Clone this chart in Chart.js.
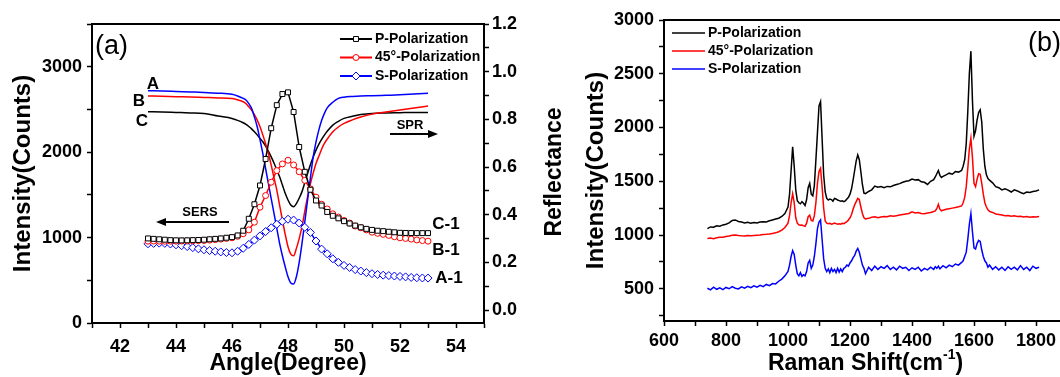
<!DOCTYPE html>
<html>
<head>
<meta charset="utf-8">
<script src="https://cdn.jsdelivr.net/npm/chart.js@4.4.1/dist/chart.umd.min.js"></script>
<style>
  html, body { margin: 0; padding: 0; background: #fff; overflow: hidden; width: 1060px; height: 377px; }
  #chartA { position: absolute; left: 0; top: 0; }
  #chartB { position: absolute; left: 560px; top: 0; }
</style>
</head>
<body>
<canvas id="chartA" width="575" height="377"></canvas>
<canvas id="chartB" width="540" height="377"></canvas>
<script>
const FONT = "Arial, 'Liberation Sans', sans-serif";

// ---- panel (a): SERS intensity vs angle (markers) ----
const sersAngles = [43.0, 43.2, 43.4, 43.6, 43.8, 44.0, 44.2, 44.4, 44.6, 44.8, 45.0, 45.2, 45.4, 45.6, 45.8, 46.0,
    46.2, 46.4, 46.6, 46.8, 47.0, 47.2, 47.4, 47.6, 47.8, 48.0, 48.2, 48.4, 48.6, 48.8, 49.0,
    49.2, 49.4, 49.6, 49.8, 50.0, 50.2, 50.4, 50.6, 50.8, 51.0, 51.2, 51.4, 51.6, 51.8, 52.0, 52.2, 52.4, 52.6, 52.8, 53.0];
const sersP = [990, 985, 980, 975, 970, 968, 967, 968, 970, 972, 975, 980, 985, 990, 998, 1005,
    1025, 1080, 1220, 1390, 1610, 1920, 2280, 2550, 2680, 2700, 2470, 2060, 1770, 1560, 1434,
    1375, 1300, 1255, 1225, 1192, 1165, 1140, 1120, 1102, 1090, 1080, 1075, 1068, 1062, 1056, 1054, 1053, 1052, 1052, 1052];
const sers45 = [958, 960, 958, 957, 958, 958, 960, 960, 962, 964, 966, 970, 976, 982, 990, 997,
    1015, 1045, 1090, 1180, 1356, 1492, 1648, 1784, 1862, 1905, 1850, 1770, 1670, 1570, 1473,
    1390, 1335, 1278, 1240, 1200, 1170, 1135, 1115, 1090, 1063, 1050, 1038, 1025, 1010, 997, 990, 982, 972, 965, 958];
const sersS = [927, 932, 935, 932, 925, 915, 905, 895, 882, 868, 857, 848, 840, 832, 825, 822,
    840, 875, 920, 970, 1020, 1070, 1115, 1155, 1190, 1215, 1205, 1170, 1120, 1060, 960,
    865, 810, 752, 710, 674, 650, 625, 608, 590, 577, 568, 560, 555, 550, 545, 540, 533, 530, 527, 526];

// ---- panel (a): reflectance vs angle (lines) ----
const reflAngles = [43, 43.5, 44, 44.5, 45, 45.5, 46, 46.2, 46.4,
    46.5, 46.6, 46.7, 46.8, 46.9, 47.0, 47.1, 47.2, 47.3, 47.4, 47.5, 47.6, 47.7, 47.8, 47.9,
    48.0, 48.1, 48.2, 48.3, 48.4, 48.5, 48.6, 48.7, 48.8, 48.9, 49.0, 49.1, 49.2, 49.3, 49.4,
    49.6, 49.8, 50.0, 50.3, 50.6, 51.0, 51.5, 52.0, 52.5, 53.0];
const reflA = [0.920, 0.919, 0.917, 0.915, 0.913, 0.910, 0.905, 0.898, 0.888,
    0.881, 0.866, 0.846, 0.810, 0.769, 0.715, 0.657, 0.594, 0.531, 0.468, 0.406, 0.343, 0.280, 0.228, 0.182,
    0.140, 0.114, 0.110, 0.140, 0.200, 0.280, 0.370, 0.462, 0.555, 0.643, 0.705, 0.755, 0.795, 0.825, 0.848,
    0.872, 0.888, 0.893, 0.896, 0.898, 0.899, 0.901, 0.903, 0.906, 0.910];
const reflB = [0.898, 0.897, 0.895, 0.894, 0.892, 0.890, 0.888, 0.882, 0.874,
    0.866, 0.853, 0.839, 0.820, 0.797, 0.769, 0.735, 0.698, 0.657, 0.608, 0.555, 0.503, 0.440, 0.378, 0.318,
    0.266, 0.235, 0.228, 0.259, 0.300, 0.350, 0.415, 0.476, 0.530, 0.575, 0.615, 0.645, 0.675, 0.699, 0.717,
    0.748, 0.768, 0.783, 0.798, 0.810, 0.822, 0.831, 0.839, 0.848, 0.856];
const reflC = [0.832, 0.831, 0.829, 0.827, 0.825, 0.814, 0.804, 0.796, 0.786,
    0.779, 0.770, 0.760, 0.748, 0.735, 0.720, 0.706, 0.688, 0.666, 0.643, 0.617, 0.588, 0.559, 0.525, 0.490,
    0.462, 0.441, 0.434, 0.447, 0.470, 0.497, 0.535, 0.573, 0.610, 0.642, 0.671, 0.695, 0.716, 0.734, 0.750,
    0.776, 0.792, 0.804, 0.813, 0.820, 0.825, 0.827, 0.828, 0.829, 0.829];

// ---- panel (b): Raman spectra ----
const ramanShift = [740, 750, 760, 770, 780, 790, 800, 810, 820, 830, 840, 850, 860, 870, 880, 890, 900, 910, 920, 930, 940, 950, 960, 970, 980, 990,
    1000, 1005, 1010, 1015, 1020, 1025, 1030, 1035, 1040, 1045, 1050, 1055, 1060, 1065, 1070, 1075, 1080, 1085, 1090, 1095,
    1100, 1105, 1110, 1115, 1120, 1125, 1130, 1135, 1140, 1145, 1150, 1155, 1160, 1165, 1170, 1175, 1180, 1185, 1190, 1195,
    1200, 1205, 1210, 1215, 1220, 1225, 1230, 1235, 1240, 1245, 1250,
    1260, 1270, 1280, 1290, 1300, 1310, 1320, 1330, 1340, 1350, 1360, 1370, 1380, 1390, 1400, 1410, 1420, 1430, 1440, 1450, 1460, 1470,
    1475, 1480, 1485, 1490, 1495,
    1500, 1510, 1520, 1530, 1540, 1550, 1560,
    1565, 1570, 1575, 1580, 1585, 1590, 1595, 1600, 1605, 1610, 1615, 1620, 1625, 1630, 1635, 1640, 1645, 1650,
    1660, 1670, 1680, 1690, 1700, 1710, 1720, 1730, 1740, 1750, 1760, 1770, 1780, 1790, 1800, 1810];
const ramanP = [1060, 1075, 1072, 1085, 1082, 1094, 1100, 1112, 1135, 1140, 1126, 1120, 1112, 1118, 1110, 1116, 1112, 1120, 1124, 1122, 1132, 1140, 1148, 1156, 1172, 1200,
    1260, 1380, 1600, 1820, 1640, 1420, 1320, 1300, 1290, 1310, 1295, 1275, 1330, 1440, 1480, 1380, 1365, 1460, 1700, 1950,
    2200, 2240, 1900, 1560, 1400, 1340, 1325, 1335, 1330, 1315, 1340, 1335, 1325, 1320, 1315, 1318, 1310, 1318, 1335, 1350,
    1380, 1430, 1510, 1600, 1690, 1745, 1700, 1590, 1470, 1390, 1385,
    1405, 1420, 1455, 1445, 1450, 1440, 1452, 1448, 1460, 1470, 1478, 1490, 1500, 1505, 1520, 1512, 1515, 1495, 1490, 1470, 1500, 1515,
    1540, 1570, 1600, 1555, 1535,
    1545, 1560, 1575, 1565, 1590, 1585, 1600,
    1640, 1700, 1850, 2150, 2500, 2710, 2250, 1920, 1970, 2070, 2140, 2165, 2050, 1800, 1640, 1560, 1525, 1510,
    1485, 1450, 1440, 1420, 1430, 1418, 1400, 1420, 1410, 1395, 1385, 1400, 1395, 1405, 1410, 1420];
const raman45 = [968, 972, 966, 975, 978, 980, 985, 990, 998, 1000, 995, 992, 990, 995, 992, 996, 998, 1000, 1004, 1006, 1010, 1015, 1020, 1030, 1045, 1070,
    1110, 1180, 1300, 1385, 1300, 1160, 1110, 1095, 1090, 1092, 1085, 1080, 1110, 1170, 1185, 1135, 1130, 1180, 1300, 1480,
    1590, 1620, 1450, 1250, 1130, 1110, 1105, 1108, 1100, 1104, 1112, 1106, 1100, 1104, 1100, 1108, 1105, 1115, 1125, 1140,
    1160, 1190, 1240, 1280, 1310, 1340, 1330, 1260, 1200, 1160, 1150,
    1155, 1165, 1170, 1160, 1168, 1172, 1170, 1178, 1175, 1180, 1185, 1190, 1195, 1200, 1215, 1205, 1210, 1200, 1198, 1205, 1210, 1218,
    1225, 1245, 1285, 1240, 1225,
    1230, 1240, 1245, 1250, 1255, 1262, 1270,
    1300, 1350, 1450, 1620, 1800, 1900, 1720, 1480, 1450, 1520, 1570, 1565, 1480, 1380, 1300, 1260, 1235, 1220,
    1210, 1195, 1190, 1185, 1180, 1182, 1175, 1178, 1172, 1175, 1168, 1172, 1165, 1170, 1168, 1172];
const ramanS = [505, 490, 515, 495, 508, 492, 512, 500, 520, 505, 498, 518, 505, 522, 510, 528, 515, 532, 520, 540, 528, 548, 545, 570, 590, 620,
    660, 720, 800, 855, 820, 720, 640, 620, 650, 615, 630, 620, 660, 740, 765, 690, 720, 800, 920, 1060,
    1120, 1140, 960, 780, 690, 660, 685, 650, 690, 660, 680, 650, 690, 655, 685, 660, 690, 700, 720, 710,
    740, 760, 790, 810, 850, 875, 840, 780, 720, 690, 640,
    700, 670, 710, 680, 705, 690, 715, 680, 700, 675, 710, 690, 700, 670, 695, 680, 700, 665, 690, 675, 700, 680,
    705, 690, 710, 685, 700,
    715, 695, 720, 705, 730, 720, 745,
    760, 800, 840, 960, 1100, 1200, 1030, 880, 870, 920, 950, 940, 860, 800, 760, 740, 700, 720,
    680, 705, 675, 700, 670, 705, 680, 700, 675, 715, 680, 700, 670, 710, 690, 700];

// tick positions for panel (b) intensity axis (labels on every other one)
const ramanYTicks = [250, 500, 750, 1000, 1250, 1500, 1750, 2000, 2250, 2500, 2750, 3000];

const seriesNames = ["P-Polarization", "45°-Polarization", "S-Polarization"];
const seriesColors = ["#000000", "#ff0000", "#0000ff"];
const markerStyles = [
    { pointStyle: "rect", radius: 3.5 },
    { pointStyle: "circle", radius: 3 },
    { pointStyle: "rectRot", radius: 4 },
];

function toXY(xs, ys) {
    return xs.map((x, i) => ({ x: x, y: ys[i] }));
}

Chart.defaults.font.family = FONT;
Chart.defaults.color = "#000";

const tickFont = { size: 18, weight: "bold" };
const titleFont = { size: 23, weight: "bold" };

function axisGrid() {
    return { drawOnChartArea: false, drawTicks: true, tickLength: 5, tickWidth: 1.5, tickColor: "#000" };
}
const axisBorder = { color: "#000", width: 2 };

const framePlugin = {
    id: "frame",
    afterDraw(chart) {
        const { ctx, chartArea } = chart;
        ctx.save();
        ctx.strokeStyle = "#000";
        ctx.lineWidth = 2;
        ctx.strokeRect(chartArea.left, chartArea.top, chartArea.right - chartArea.left, chartArea.bottom - chartArea.top);
        ctx.restore();
    },
};

function arrow(ctx, x1, x2, y) {
    const dir = x2 > x1 ? 1 : -1;
    ctx.beginPath();
    ctx.moveTo(x1, y);
    ctx.lineTo(x2 - dir * 8, y);
    ctx.stroke();
    ctx.beginPath();
    ctx.moveTo(x2, y);
    ctx.lineTo(x2 - dir * 10, y - 4);
    ctx.lineTo(x2 - dir * 10, y + 4);
    ctx.closePath();
    ctx.fill();
}

const annotA = {
    id: "annotA",
    afterDraw(chart) {
        const ctx = chart.ctx;
        ctx.save();
        ctx.fillStyle = "#000";
        ctx.strokeStyle = "#000";
        ctx.textBaseline = "middle";

        ctx.font = "27px " + FONT;
        ctx.textAlign = "left";
        ctx.fillText("(a)", 95, 47);

        ctx.font = "bold 17px " + FONT;
        ctx.textAlign = "center";
        ctx.fillText("A", 153, 84);
        ctx.fillText("B", 139, 101);
        ctx.fillText("C", 142, 121);
        ctx.fillText("C-1", 446, 224);
        ctx.fillText("B-1", 446, 250);
        ctx.fillText("A-1", 449, 278);

        ctx.font = "bold 13px " + FONT;
        ctx.fillText("SPR", 410, 125);
        ctx.fillText("SERS", 200, 212);
        ctx.lineWidth = 2;
        arrow(ctx, 390, 438, 134);
        arrow(ctx, 229, 156, 222);

        // legend
        ctx.font = "bold 14px " + FONT;
        ctx.textAlign = "left";
        seriesNames.forEach((name, i) => {
            const y = 39 + i * 18.5;
            ctx.strokeStyle = seriesColors[i];
            ctx.lineWidth = 2;
            ctx.beginPath();
            ctx.moveTo(340, y);
            ctx.lineTo(372, y);
            ctx.stroke();
            ctx.fillStyle = "#fff";
            ctx.lineWidth = 1;
            Chart.helpers.drawPoint(ctx, { pointStyle: markerStyles[i].pointStyle, radius: markerStyles[i].radius, borderWidth: 1, rotation: 0 }, 356, y);
            ctx.fillStyle = "#000";
            ctx.fillText(name, 375, y);
        });

        // right axis title, reads bottom to top
        ctx.translate(555, 172);
        ctx.rotate(-Math.PI / 2);
        ctx.font = "bold 23px " + FONT;
        ctx.textAlign = "center";
        ctx.fillText("Reflectance", 0, 0);
        ctx.restore();
    },
};

const sersSets = [sersP, sers45, sersS].map((vals, i) => ({
    label: seriesNames[i],
    data: toXY(sersAngles, vals),
    yAxisID: "y",
    borderColor: seriesColors[i],
    borderWidth: 1.5,
    pointStyle: markerStyles[i].pointStyle,
    pointRadius: markerStyles[i].radius,
    pointBorderWidth: 1,
    pointBorderColor: seriesColors[i],
    pointBackgroundColor: "#fff",
    tension: 0,
}));
const reflSets = [reflA, reflB, reflC].map((vals, i) => ({
    label: ["A", "B", "C"][i],
    data: toXY(reflAngles, vals),
    yAxisID: "y1",
    borderColor: ["#0000ff", "#ff0000", "#000000"][i],
    borderWidth: 1.5,
    pointRadius: 0,
    cubicInterpolationMode: "monotone",
}));

const chartA = new Chart(document.getElementById("chartA").getContext("2d"), {
    type: "line",
    data: { datasets: sersSets.concat(reflSets) },
    options: {
        responsive: false,
        animation: false,
        layout: { padding: { top: 24, left: 0, right: 0, bottom: 0 } },
        plugins: { legend: { display: false }, tooltip: { enabled: false } },
        scales: {
            x: {
                type: "linear",
                min: 41,
                max: 55,
                grid: axisGrid(),
                border: axisBorder,
                ticks: {
                    stepSize: 1,
                    autoSkip: false,
                    maxRotation: 0,
                    padding: 8,
                    font: tickFont,
                    callback: (v) => (v % 2 === 0 ? v : ""),
                },
                title: { display: true, text: "Angle(Degree)", font: titleFont, padding: { top: 0, bottom: 0 } },
                afterFit: (s) => { s.height = 54; },
            },
            y: {
                position: "left",
                min: 0,
                max: 3500,
                grid: axisGrid(),
                border: axisBorder,
                ticks: {
                    stepSize: 500,
                    autoSkip: false,
                    padding: 5,
                    font: tickFont,
                    callback: (v) => (v % 1000 === 0 ? v : ""),
                },
                title: { display: true, text: "Intensity(Counts)", font: { size: 24, weight: "bold" }, padding: { top: 9, bottom: 0 } },
                afterFit: (s) => { s.width = 92; },
            },
            y1: {
                position: "right",
                min: -0.054,
                max: 1.2,
                grid: axisGrid(),
                border: axisBorder,
                ticks: {
                    stepSize: 0.1,
                    autoSkip: false,
                    includeBounds: false,
                    padding: 3,
                    font: tickFont,
                    callback: (v) => {
                        const t = Math.round(v * 10);
                        return t % 2 === 0 ? (t / 10).toFixed(1) : "";
                    },
                },
                afterFit: (s) => { s.width = 91; },
            },
        },
    },
    plugins: [framePlugin, annotA],
});

const annotB = {
    id: "annotB",
    afterDraw(chart) {
        const ctx = chart.ctx;
        ctx.save();
        ctx.fillStyle = "#000";
        ctx.textBaseline = "middle";

        ctx.font = "27px " + FONT;
        ctx.textAlign = "left";
        ctx.fillText("(b)", 468, 44);

        // legend
        ctx.font = "bold 14px " + FONT;
        seriesNames.forEach((name, i) => {
            const y = 33 + i * 18;
            ctx.strokeStyle = seriesColors[i];
            ctx.lineWidth = 1.5;
            ctx.beginPath();
            ctx.moveTo(112, y);
            ctx.lineTo(145, y);
            ctx.stroke();
            ctx.fillText(name, 148, y);
        });

        // x axis title with superscript
        const cx = (chart.chartArea.left + chart.chartArea.right) / 2;
        const y = 364;
        const main = "Raman Shift(cm";
        ctx.font = "bold 23px " + FONT;
        const w1 = ctx.measureText(main).width;
        const w3 = ctx.measureText(")").width;
        ctx.font = "bold 14px " + FONT;
        const w2 = ctx.measureText("-1").width;
        let x = cx - (w1 + w2 + w3) / 2;
        ctx.font = "bold 23px " + FONT;
        ctx.fillText(main, x, y);
        x += w1;
        ctx.font = "bold 14px " + FONT;
        ctx.fillText("-1", x, y - 9);
        x += w2;
        ctx.font = "bold 23px " + FONT;
        ctx.fillText(")", x, y);
        ctx.restore();
    },
};

const chartB = new Chart(document.getElementById("chartB").getContext("2d"), {
    type: "line",
    data: {
        datasets: [ramanP, raman45, ramanS].map((vals, i) => ({
            label: seriesNames[i],
            data: toXY(ramanShift, vals),
            borderColor: seriesColors[i],
            borderWidth: 1.5,
            pointRadius: 0,
            tension: 0,
        })),
    },
    options: {
        responsive: false,
        animation: false,
        layout: { padding: { top: 20, left: 0, right: 33, bottom: 0 } },
        plugins: { legend: { display: false }, tooltip: { enabled: false } },
        scales: {
            x: {
                type: "linear",
                min: 600,
                max: 1900,
                grid: axisGrid(),
                border: axisBorder,
                ticks: {
                    stepSize: 100,
                    autoSkip: false,
                    maxRotation: 0,
                    padding: 4,
                    font: tickFont,
                    callback: (v) => (v % 200 === 0 ? v : ""),
                },
                afterFit: (s) => { s.height = 56; },
            },
            y: {
                min: 200,
                max: 3000,
                grid: axisGrid(),
                border: axisBorder,
                afterBuildTicks: (s) => {
                    s.ticks = ramanYTicks.map((v) => ({ value: v }));
                },
                ticks: {
                    autoSkip: false,
                    padding: 5,
                    font: tickFont,
                    callback: (v) => (v % 500 === 0 ? v : ""),
                },
                title: { display: true, text: "Intensity(Counts)", font: { size: 24, weight: "bold" }, padding: { top: 22, bottom: 0 } },
                afterFit: (s) => { s.width = 104; },
            },
        },
    },
    plugins: [framePlugin, annotB],
});
</script>
</body>
</html>
